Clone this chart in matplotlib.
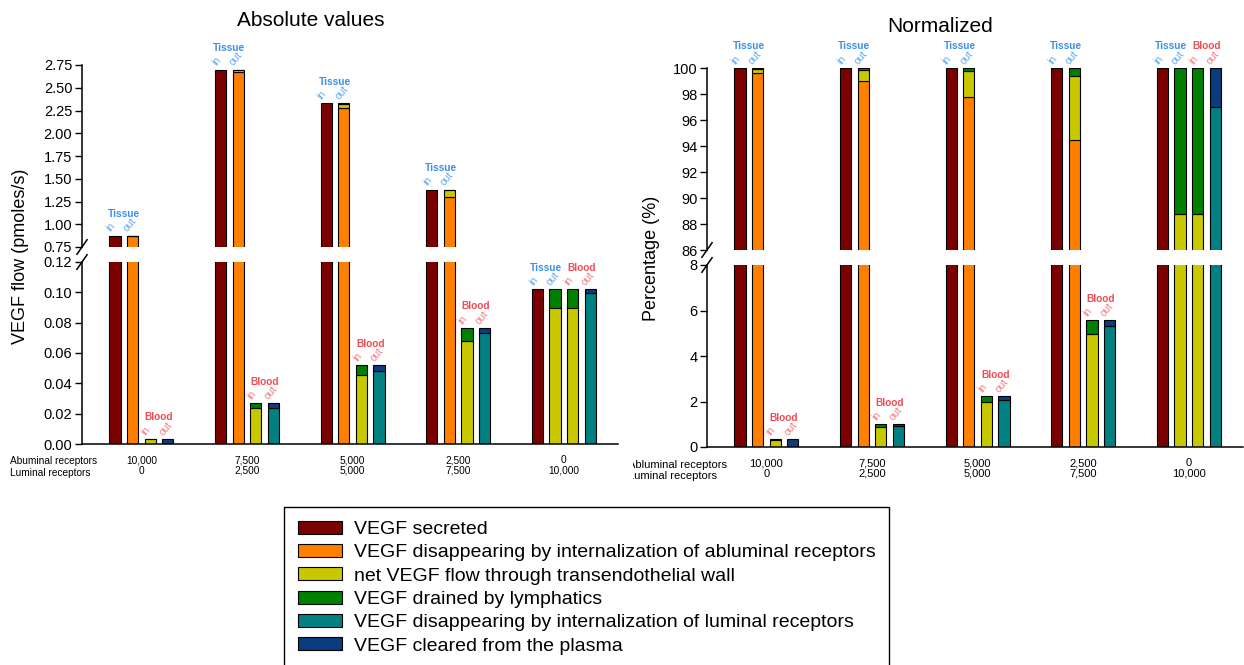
import matplotlib
matplotlib.use('Agg')
import matplotlib.pyplot as plt
from matplotlib.patches import Patch
from matplotlib.transforms import Bbox, TransformedBbox
import numpy as np

plt.rcParams['font.family'] = ['Liberation Sans', 'DejaVu Sans']

W, H = 1244, 665

SERIES = ["VEGF secreted",
          "VEGF disappearing by internalization of abluminal receptors",
          "net VEGF flow through transendothelial wall",
          "VEGF drained by lymphatics",
          "VEGF disappearing by internalization of luminal receptors",
          "VEGF cleared from the plasma"]
COLORS = ['#7b0000', '#ff8000', '#c8c800', '#008000', '#008080', '#0b3c7d']

abluminal_rec = ["10,000", "7,500", "5,000", "2,500", "0"]
luminal_rec = ["0", "2,500", "5,000", "7,500", "10,000"]

# absolute flows (pmoles/s), one value per receptor distribution
abs_secreted = [0.875, 2.70, 2.33, 1.38, 0.102]
abs_abluminal = [0.8717, 2.673, 2.278, 1.3035, 0.0]
abs_wall = [0.003, 0.024, 0.0455, 0.068, 0.090]
abs_lymph = [0.0003, 0.003, 0.0065, 0.0085, 0.012]
abs_luminal = [0.0, 0.024, 0.048, 0.073, 0.0995]
abs_plasma = [0.0033, 0.003, 0.004, 0.0035, 0.0025]

# normalized to secreted VEGF (%)
pct_secreted = [100, 100, 100, 100, 100]
pct_abluminal = [99.65, 99.0, 97.78, 94.43, 0.0]
pct_wall = [0.30, 0.88, 1.97, 4.95, 88.8]
pct_lymph = [0.05, 0.12, 0.25, 0.62, 11.2]
pct_luminal = [0.0, 0.92, 2.08, 5.32, 97.0]
pct_plasma = [0.35, 0.08, 0.14, 0.25, 3.0]

# which series are stacked in each bar: tissue in, tissue out, blood in, blood out
STACKS = [[0], [1, 2, 3], [2, 3], [4, 5]]
BAR_TAGS = ["in", "out", "in", "out"]

TISSUE_C, TISSUE_L = '#3a8fe6', '#5fa9f0'
BLOOD_C, BLOOD_L = '#f04c55', '#f47c82'


def fx(px):
    return px / W


def fy(py):
    return 1 - py / H


def add_ax(left, right, top, bottom):
    return fig.add_axes([fx(left), fy(bottom), fx(right) - fx(left), fy(top) - fy(bottom)])


def break_marks(ax, y):
    dx, dy = 0.0095, 0.04
    ax.plot([-dx, dx], [y - dy, y + dy], transform=ax.transAxes, color='black',
            lw=1.1, clip_on=False)


def draw_panel(ax_hi, ax_lo, vals, hi_lim, lo_lim, hi_ticks, lo_ticks, fmt, lab_fs):
    step = 6
    xs_all = []
    for g in range(5):
        for j, stack in enumerate(STACKS):
            x = g * step + j
            bottom = 0
            for k in stack:
                v = vals[k][g]
                if v <= 0:
                    continue
                for ax in (ax_hi, ax_lo):
                    ax.bar(x, v, 0.64, bottom=bottom, color=COLORS[k],
                           edgecolor='black', linewidth=0.8)
                bottom += v
        xs_all.append(g * step + 1.5)

        # Tissue / Blood labels
        for p, (name, c, cl) in enumerate([("Tissue", TISSUE_C, TISSUE_L),
                                           ("Blood", BLOOD_C, BLOOD_L)]):
            j0 = 2 * p
            tots = [sum(vals[k][g] for k in STACKS[j]) for j in (j0, j0 + 1)]
            top = max(tots)
            ax = ax_hi if top > hi_lim[0] else ax_lo
            xc = g * step + j0 + 0.5
            ax.annotate(name, xy=(xc, top), xytext=(0, 15.5), textcoords='offset points',
                        ha='center', va='center', fontsize=7.3, fontweight='bold', color=c)
            for jj in (j0, j0 + 1):
                ax.annotate(BAR_TAGS[jj], xy=(g * step + jj, top), xytext=(-2.2, 1.5),
                            textcoords='offset points', ha='left', va='bottom',
                            rotation=50, rotation_mode='anchor', fontsize=7.5, color=cl)

    xlim = (-1.875, 28.58)
    for ax in (ax_hi, ax_lo):
        ax.set_xlim(*xlim)
        ax.spines['right'].set_visible(False)
        ax.spines['top'].set_visible(False)
        ax.tick_params(axis='y', direction='out', length=5, width=1, labelsize=10.5, pad=2)
        ax.spines['left'].set_linewidth(1.1)
    ax_hi.spines['bottom'].set_visible(False)
    ax_hi.set_xticks([])
    ax_hi.set_ylim(*hi_lim)
    ax_hi.set_yticks(hi_ticks)
    ax_hi.set_yticklabels([fmt.format(t) for t in hi_ticks])
    ax_lo.set_ylim(*lo_lim)
    ax_lo.set_yticks(lo_ticks)
    ax_lo.set_yticklabels([fmt.format(t) for t in lo_ticks])
    ax_lo.spines['bottom'].set_linewidth(1.1)
    ax_lo.set_xticks(xs_all)
    ax_lo.set_xticklabels([f"{a}\n{l}" for a, l in zip(abluminal_rec, luminal_rec)],
                          fontsize=lab_fs, linespacing=1.1)
    ax_lo.tick_params(axis='x', length=0, pad=8)
    break_marks(ax_hi, 0.0)
    break_marks(ax_lo, 1.0)


fig = plt.figure(figsize=(W / 100, H / 100), dpi=100)

# left: absolute values
axL_hi = add_ax(82, 618, 65, 247)
axL_lo = add_ax(82, 618, 262, 444)
abs_vals = [abs_secreted, abs_abluminal, abs_wall, abs_lymph, abs_luminal, abs_plasma]
draw_panel(axL_hi, axL_lo, abs_vals, (0.75, 2.75), (0, 0.12),
           np.arange(0.75, 2.76, 0.25), np.arange(0, 0.121, 0.02), '{:.2f}', 7.3)

# right: normalized
axR_hi = add_ax(707, 1243, 68, 250)
axR_lo = add_ax(707, 1243, 265, 447)
pct_vals = [pct_secreted, pct_abluminal, pct_wall, pct_lymph, pct_luminal, pct_plasma]
draw_panel(axR_hi, axR_lo, pct_vals, (86, 100), (0, 8),
           np.arange(86, 101, 2), np.arange(0, 9, 2), '{:.0f}', 8)

fig.text(fx(311), fy(20), 'Absolute values', ha='center', va='center', fontsize=15)
fig.text(fx(940), fy(26), 'Normalized', ha='center', va='center', fontsize=15)
fig.text(fx(21), fy(256), 'VEGF flow (pmoles/s)', ha='center', va='center',
         rotation=90, fontsize=13)
fig.text(fx(652), fy(258), 'Percentage (%)', ha='center', va='center',
         rotation=90, fontsize=13)

# receptor row titles
fig.text(fx(10), fy(461), 'Abuminal receptors', ha='left', va='center', fontsize=7.3)
fig.text(fx(10), fy(473), 'Luminal receptors', ha='left', va='center', fontsize=7.3)
clip = TransformedBbox(Bbox([[fx(633), 0], [1, 1]]), fig.transFigure)
for txt, yy in [('Abluminal receptors', 465), ('Luminal receptors', 476)]:
    t = fig.text(fx(628), fy(yy), txt, ha='left', va='center', fontsize=8)
    t.set_clip_box(clip)
    t.set_clip_on(True)

handles = [Patch(facecolor=c, edgecolor='black', linewidth=0.8) for c in COLORS]
leg = fig.legend(handles, SERIES, loc='upper left', bbox_to_anchor=(fx(284), fy(507)),
                 fontsize=14, frameon=True, fancybox=False, edgecolor='black',
                 handlelength=2.3, handleheight=0.65, handletextpad=0.6,
                 labelspacing=0.31, borderpad=0.7, borderaxespad=0)
leg.get_frame().set_linewidth(1.0)
leg.get_frame().set_alpha(1)

fig.savefig('out.png', dpi=100)
